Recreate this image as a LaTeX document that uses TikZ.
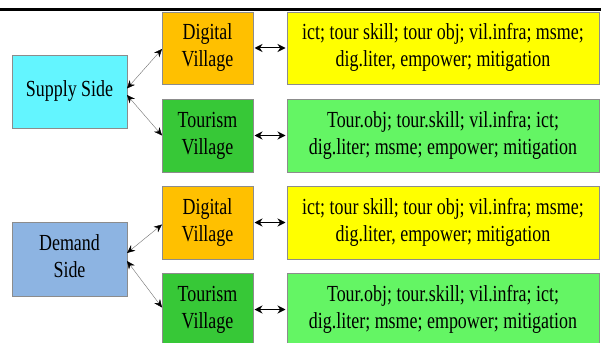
\documentclass[tikz,border=0pt]{standalone}
\usepackage{fontspec}
\setmainfont{Liberation Serif}
\usetikzlibrary{arrows.meta}
\newcommand{\txt}[1]{\scalebox{0.78}[1]{\fontsize{23}{27}\selectfont\begin{tabular}{@{}c@{}}#1\end{tabular}}}
\tikzset{
  box/.style={draw=black!45, line width=0.6pt, inner sep=0pt, outer sep=0pt, align=center},
  diag/.style={draw=black!55, line width=0.4pt, {Stealth[length=8pt,width=7pt,color=black]}-{Stealth[length=8pt,width=7pt,color=black]}},
  horiz/.style={draw=black, line width=1pt, {Stealth[length=8pt,width=8pt]}-{Stealth[length=8pt,width=8pt]}, shorten <=1.5pt, shorten >=1.5pt},
}
\begin{document}
\begin{tikzpicture}[x=1pt,y=-1pt]
\clip (0,0) rectangle (601,342);
\fill[white] (0,0) rectangle (601,342);
\coordinate (tl) at (0,9.5);
\coordinate (tr) at (601,9.5);
\draw[line width=2.6pt] (tl) -- (tr);
% top group
\node[box, fill={rgb,255:red,99;green,245;blue,255}, minimum width=115pt, minimum height=73pt] (sup) at (69.5,91.5) {\txt{Supply Side}};
\node[box, fill={rgb,255:red,255;green,192;blue,0}, minimum width=91pt, minimum height=72pt] (dv1) at (207.5,48) {\txt{Digital\\Village}};
\node[box, fill={rgb,255:red,55;green,200;blue,55}, minimum width=91pt, minimum height=73pt] (tv1) at (207.5,135.5) {\txt{Tourism\\Village}};
\node[box, fill={rgb,255:red,255;green,255;blue,0}, minimum width=312pt, minimum height=72pt] (y1) at (443,48) {\txt{ict; tour skill; tour obj; vil.infra; msme;\\dig.liter, empower; mitigation}};
\node[box, fill={rgb,255:red,100;green,245;blue,100}, minimum width=312pt, minimum height=73pt] (g1) at (443,135.5) {\txt{Tour.obj; tour.skill; vil.infra; ict;\\dig.liter; msme; empower; mitigation}};
% bottom group
\node[box, fill={rgb,255:red,141;green,180;blue,226}, minimum width=115pt, minimum height=74pt] (dem) at (69.5,259) {\txt{Demand\\Side}};
\node[box, fill={rgb,255:red,255;green,192;blue,0}, minimum width=91pt, minimum height=73pt] (dv2) at (207.5,222.5) {\txt{Digital\\Village}};
\node[box, fill={rgb,255:red,55;green,200;blue,55}, minimum width=91pt, minimum height=73pt] (tv2) at (207.5,309.5) {\txt{Tourism\\Village}};
\node[box, fill={rgb,255:red,255;green,255;blue,0}, minimum width=312pt, minimum height=73pt] (y2) at (443,222.5) {\txt{ict; tour skill; tour obj; vil.infra; msme;\\dig.liter, empower; mitigation}};
\node[box, fill={rgb,255:red,100;green,245;blue,100}, minimum width=312pt, minimum height=73pt] (g2) at (443,309.5) {\txt{Tour.obj; tour.skill; vil.infra; ict;\\dig.liter; msme; empower; mitigation}};
% connectors
\draw[diag] ([yshift=3pt]sup.east) -- ([yshift=-1pt]dv1.west);
\draw[diag] ([yshift=-3.5pt]sup.east) -- (tv1.west);
\draw[diag] ([yshift=6pt]dem.east) -- ([yshift=-2pt]dv2.west);
\draw[diag] ([yshift=-2pt]dem.east) -- ([yshift=2pt]tv2.west);
\draw[horiz] (dv1) -- (y1);
\draw[horiz] (tv1) -- (g1);
\draw[horiz] (dv2) -- (y2);
\draw[horiz] (tv2) -- (g2);
\end{tikzpicture}
\end{document}
